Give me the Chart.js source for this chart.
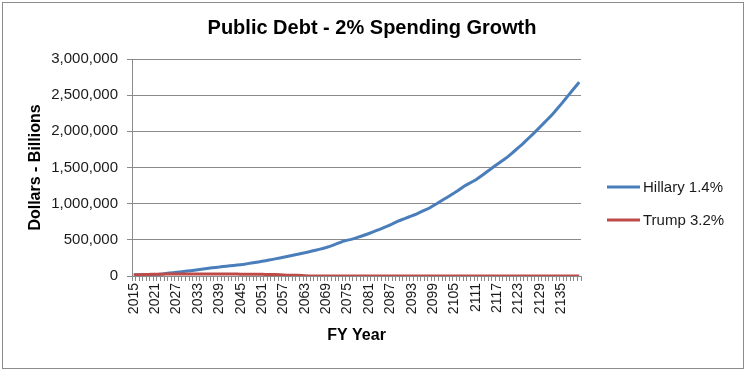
<!DOCTYPE html>
<html>
<head>
<meta charset="utf-8">
<script src="https://cdn.jsdelivr.net/npm/chart.js@4/dist/chart.umd.min.js"></script>
<style>
  html, body { margin: 0; padding: 0; background: #ffffff; }
  #wrap { width: 747px; height: 373px; }
</style>
</head>
<body>
<div id="wrap"><canvas id="c" width="747" height="373"></canvas></div>
<script>
const years = [
  "2015","2016","2017","2018","2019","2020","2021","2022","2023","2024",
  "2025","2026","2027","2028","2029","2030","2031","2032","2033","2034",
  "2035","2036","2037","2038","2039","2040","2041","2042","2043","2044",
  "2045","2046","2047","2048","2049","2050","2051","2052","2053","2054",
  "2055","2056","2057","2058","2059","2060","2061","2062","2063","2064",
  "2065","2066","2067","2068","2069","2070","2071","2072","2073","2074",
  "2075","2076","2077","2078","2079","2080","2081","2082","2083","2084",
  "2085","2086","2087","2088","2089","2090","2091","2092","2093","2094",
  "2095","2096","2097","2098","2099","2100","2101","2102","2103","2104",
  "2105","2106","2107","2108","2109","2110","2111","2112","2113","2114",
  "2115","2116","2117","2118","2119","2120","2121","2122","2123","2124",
  "2125","2126","2127","2128","2129","2130","2131","2132","2133","2134",
  "2135","2136","2137","2138","2139","2140"
];

const xTickLabels = ["2015","2021","2027","2033","2039","2045","2051","2057","2063","2069",
  "2075","2081","2087","2093","2099","2105","2111","2117","2123","2129","2135"];

const hillary = [
  18000,18400,18800,19300,19800,20300,22000,24500,29000,34000,
  40000,45500,51000,57000,62500,68000,74000,80500,87000,93500,
  100000,106500,112500,118500,124000,131000,136000,141000,146000,151500,
  157000,163000,171000,179000,187000,195000,203000,211500,221000,230000,
  240000,249000,259000,269000,279000,290000,301000,312000,322000,333000,
  345000,357000,368000,380000,394000,410000,428000,447000,466000,485000,
  496000,506000,521000,537000,553000,570000,588000,607000,626000,645000,
  665000,686000,708000,731000,755000,774000,793000,812000,831000,850000,
  873000,896000,918000,940000,970000,1000000,1030000,1060000,1090000,1120000,
  1150000,1183000,1217000,1250000,1277000,1303000,1330000,1365000,1400000,1437000,
  1473000,1510000,1545000,1580000,1615000,1650000,1692000,1735000,1777000,1820000,
  1867000,1915000,1962000,2010000,2060000,2110000,2160000,2210000,2265000,2322000,
  2380000,2440000,2500000,2560000,2620000,2680000
];

const trump = [
  15000,17000,19000,21000,22000,23000,
  24000,25000,25000,26000,26000,26000,27000,27000,27000,27000,
  27000,27000,27000,27000,27000,27000,27000,27000,27000,27000,
  27000,26000,26000,26000,25000,25000,25000,24000,24000,23000,
  23000,22000,22000,21000,20000,19000,
  15000,11000,10000,10000,9000,8000,4000,
  0,0,0,0,0,0,0,0,0,0,
  0,0,0,0,0,0,0,0,0,0,
  0,0,0,0,0,0,0,0,0,0,
  0,0,0,0,0,0,0,0,0,0,
  0,0,0,0,0,0,0,0,0,0,
  0,0,0,0,0,0,0,0,0,0,
  0,0,0,0,0,0,0,0,0,0,
  0,0,0,0,0,0,0
];

const seriesNames = ["Hillary 1.4%", "Trump 3.2%"];
const seriesColors = ["#4A7EBB", "#BE4B48"];
const chartTitle = 'Public Debt - 2% Spending Growth';

const FONT = "'Liberation Sans', Arial, sans-serif";
const GRID = "#8a8a8a";

const frameAndLegend = {
  id: 'frameAndLegend',
  beforeDraw(chart) {
    const ctx = chart.ctx;
    ctx.save();
    ctx.fillStyle = '#ffffff';
    ctx.fillRect(0, 0, chart.width, chart.height);
    ctx.restore();
  },
  afterDraw(chart) {
    const ctx = chart.ctx;
    ctx.save();
    ctx.strokeStyle = '#8c8c8c';
    ctx.lineWidth = 1;
    ctx.strokeRect(2.5, 2.5, 741, 366);
    // title
    ctx.fillStyle = '#000000';
    ctx.font = "bold 20px " + FONT;
    ctx.textAlign = 'center';
    ctx.textBaseline = 'middle';
    ctx.fillText(chartTitle, 372, 28);
    // legend
    const ys = [187, 220];
    ctx.font = "15px " + FONT;
    ctx.textBaseline = 'middle';
    ctx.textAlign = 'left';
    chart.data.datasets.forEach((ds, i) => {
      ctx.strokeStyle = ds.borderColor;
      ctx.lineWidth = 3;
      ctx.beginPath();
      ctx.moveTo(607, ys[i]);
      ctx.lineTo(640, ys[i]);
      ctx.stroke();
      ctx.fillStyle = '#1a1a1a';
      ctx.fillText(ds.label, 643, ys[i] + 1);
    });
    ctx.restore();
  }
};

new Chart(document.getElementById('c'), {
  type: 'line',
  data: {
    labels: years,
    datasets: [
      { label: seriesNames[0], data: hillary, borderColor: seriesColors[0], backgroundColor: seriesColors[0],
        borderWidth: 3, pointRadius: 0, tension: 0, order: 1 },
      { label: seriesNames[1], data: trump, borderColor: seriesColors[1], backgroundColor: seriesColors[1],
        borderWidth: 3, pointRadius: 0, tension: 0, order: 0 }
    ]
  },
  options: {
    responsive: false,
    animation: false,
    devicePixelRatio: 1,
    layout: { padding: { left: 17, right: 166, top: 59, bottom: 20 } },
    plugins: {
      legend: { display: false },
      tooltip: { enabled: false },
      title: { display: false }
    },
    scales: {
      x: {
        type: 'category',
        offset: true,
        grid: { display: true, drawOnChartArea: false, drawTicks: true, tickLength: 5, color: GRID, offset: true },
        border: { display: true, color: GRID, width: 1 },
        ticks: {
          autoSkip: false,
          maxRotation: 90,
          minRotation: 90,
          padding: 2,
          color: '#1a1a1a',
          font: { family: FONT, size: 14 },
          callback: function(value, index) {
            const lab = this.getLabelForValue(value);
            return xTickLabels.includes(lab) ? lab : '';
          }
        },
        title: {
          display: true,
          text: 'FY Year',
          color: '#000000',
          font: { family: FONT, size: 16, weight: 'bold' },
          padding: { top: 0, bottom: 8 }
        },
        afterFit(scale) { scale.height = 77; }
      },
      y: {
        min: 0,
        max: 3000000,
        grid: { display: true, color: GRID, drawTicks: true, tickLength: 5 },
        border: { display: true, color: GRID, width: 1 },
        ticks: {
          stepSize: 500000,
          padding: 9,
          color: '#1a1a1a',
          font: { family: FONT, size: 15 },
          callback: (v) => Number(v).toLocaleString('en-US')
        },
        title: {
          display: true,
          text: 'Dollars - Billions',
          color: '#000000',
          font: { family: FONT, size: 16, weight: 'bold' },
          padding: { top: 9, bottom: 4 }
        },
        afterFit(scale) { scale.width = 115; }
      }
    }
  },
  plugins: [frameAndLegend]
});
</script>
</body>
</html>
